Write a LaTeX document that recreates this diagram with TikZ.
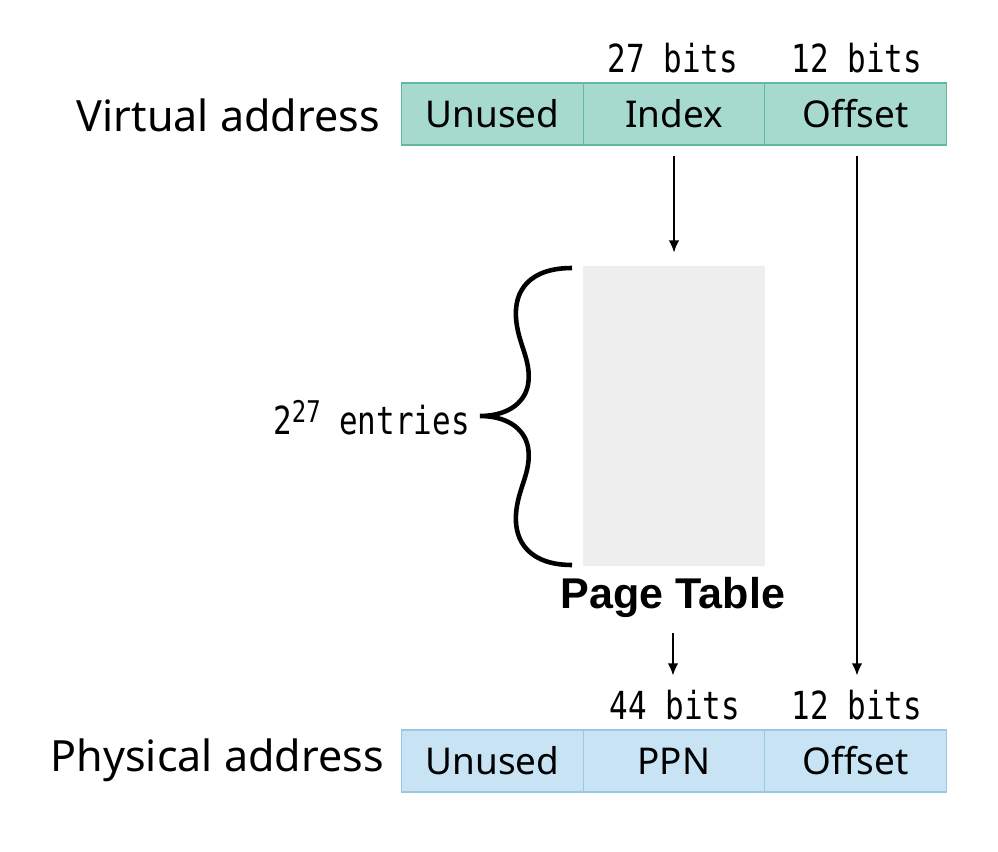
\documentclass[tikz,border=0pt]{standalone}
\usepackage{fontspec}
\setmainfont{Noto Sans}
\newfontfamily\bitsfont[FakeStretch=0.8]{DejaVu Sans Mono}
\newfontfamily\titlefont{Liberation Sans}
\usetikzlibrary{arrows.meta}
\definecolor{vfill}{HTML}{A6DACE}
\definecolor{vline}{HTML}{62B8A2}
\definecolor{pfill}{HTML}{C8E4F4}
\definecolor{pline}{HTML}{98C8E4}
\definecolor{tfill}{HTML}{EEEEEE}
\begin{document}
\begin{tikzpicture}[x=0.02cm, y=-0.02cm, >=Latex,
  vcell/.style={draw=vline, fill=vfill, line width=0.8pt, minimum width=3.63cm,
    minimum height=1.24cm, inner sep=0pt, font=\fontsize{21}{21}\selectfont},
  pcell/.style={vcell, draw=pline, fill=pfill},
  bits/.style={font=\bitsfont\fontsize{22}{22}\selectfont, inner sep=0pt},
  lbl/.style={font=\fontsize{24.5}{24.5}\selectfont, inner sep=0pt},
  arr/.style={->, line width=1pt, >={Latex[length=7pt, width=6pt]}}]
  \useasboundingbox (0,0) rectangle (998,852);
  % Virtual address.
  \node[lbl, anchor=east] (vlabel) at (380,115) {Virtual address};
  \node[vcell] (vUnused) at (492.5,114) {Unused};
  \node[vcell] (vIndex)  at (674,114)   {Index};
  \node[vcell] (vOffset) at (855.5,114) {Offset};
  \node[bits] (vIdxBits) at (673,58) {27 bits};
  \node[bits] (vOffBits) at (857,58) {12 bits};
  % Page table.
  \node[fill=tfill, minimum width=3.64cm, minimum height=6cm, inner sep=0pt] (ptable) at (674,416) {};
  \node[font=\titlefont\fontsize{24.5}{24.5}\selectfont\bfseries, inner sep=0pt] (ptname) at (673,597) {Page Table};
  \draw[line width=2.6pt] (572,268) .. controls (530,268) and (514,290) .. (516,318)
    .. controls (518,345) and (532,360) .. (528,385)
    .. controls (524,405) and (505,416) .. (480,416)
    .. controls (505,416) and (524,427) .. (528,447)
    .. controls (532,472) and (518,487) .. (516,514)
    .. controls (514,542) and (530,565) .. (572,565);
  \node[bits, anchor=east] (entries) at (470,418)
    {2\raisebox{7pt}{\fontsize{17}{17}\selectfont27} entries};
  % Physical address.
  \node[lbl, anchor=east] (plabel) at (384,760) {Physical address};
  \node[pcell] (pUnused) at (492.5,761) {Unused};
  \node[pcell] (pPPN)    at (674,761)   {PPN};
  \node[pcell] (pOffset) at (855.5,761) {Offset};
  \node[bits] (pPPNBits) at (675,705) {44 bits};
  \node[bits] (pOffBits) at (857,705) {12 bits};
  % Arrows.
  \draw[arr, shorten <=5.7pt, shorten >=7.4pt] (vIndex.south) -- (vIndex.south |- ptable.north);
  \draw[arr, shorten <=5.7pt, shorten >=8pt] (vOffset.south -| vOffBits) -- (pOffBits.north);
  \draw[arr, shorten <=9pt, shorten >=8pt] (ptname.south) -- (ptname.south |- pPPNBits.north);
\end{tikzpicture}
\end{document}
